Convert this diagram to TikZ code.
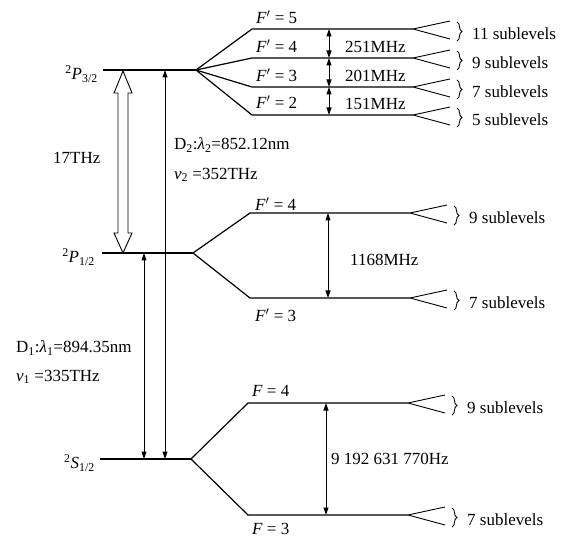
\documentclass[tikz,border=0pt]{standalone}
\usepackage{fontspec}
\setmainfont{Liberation Serif}
\usetikzlibrary{arrows.meta,decorations.pathreplacing}
\begin{document}
\begin{tikzpicture}[x=1pt,y=-1pt,
  font=\fontsize{17}{19}\selectfont,
  lvl/.style={line width=1.2pt},
  gap/.style={line width=1pt,{Triangle[length=7.5pt,width=5pt]}-{Triangle[length=7.5pt,width=5pt]}},
  lab/.style={inner sep=0pt},
  pics/fork/.style={code={
    \draw[line width=0.9pt] (0,0) -- (37,-8) (0,0) -- (37,10);
    \draw[line width=0.9pt,decorate,decoration={brace,amplitude=5pt}] (44,-7) -- (44,12);
    \node[lab,anchor=west] (-t) at (59,5) {#1};
  }}]
\useasboundingbox (0,0) rectangle (562,537);

% fine-structure levels
\coordinate (p3L) at (103,70);  \coordinate (p3R) at (196,70);
\coordinate (p1L) at (102,253); \coordinate (p1R) at (193,253);
\coordinate (s1L) at (100,459); \coordinate (s1R) at (191,459);
\draw[lvl] (p3L) -- (p3R);
\draw[lvl] (p1L) -- (p1R);
\draw[lvl] (s1L) -- (s1R);
\node[lab,anchor=east] (p3lab) at (98,74) {\textsuperscript{2}\textit{P}\textsubscript{3/2}};
\node[lab,anchor=east] (p1lab) at (95,257) {\textsuperscript{2}\textit{P}\textsubscript{1/2}};
\node[lab,anchor=east] (s1lab) at (95,463) {\textsuperscript{2}\textit{S}\textsubscript{1/2}};

% P3/2 hyperfine
\coordinate (a5s) at (252,29);  \coordinate (a5e) at (413,29);
\coordinate (a4s) at (252,58);  \coordinate (a4e) at (413,58);
\coordinate (a3s) at (252,87);  \coordinate (a3e) at (413,87);
\coordinate (a2s) at (252,115); \coordinate (a2e) at (413,115);
\foreach \n in {5,4,3,2} {\draw[lvl] (p3R) -- (a\n s) -- (a\n e);}
\pic (f5) at (a5e) {fork={11 sublevels}};
\pic (f4) at (a4e) {fork={9 sublevels}};
\pic (f3) at (a3e) {fork={7 sublevels}};
\pic (f2) at (a2e) {fork={5 sublevels}};
\node[lab,anchor=west] (la5) at (256,17) {\textit{F}$'$ = 5};
\node[lab,anchor=west] (la4) at (256,46) {\textit{F}$'$ = 4};
\node[lab,anchor=west] (la3) at (256,75) {\textit{F}$'$ = 3};
\node[lab,anchor=west] (la2) at (256,102) {\textit{F}$'$ = 2};
\coordinate (g5) at (329,29); \coordinate (g4) at (329,58);
\coordinate (g3) at (329,87); \coordinate (g2) at (329,115);
\draw[gap] (g5) -- (g4);
\draw[gap] (g4) -- (g3);
\draw[gap] (g3) -- (g2);
\node[lab,anchor=west] (h1) at (345,47) {251MHz};
\node[lab,anchor=west] (h2) at (345,76) {201MHz};
\node[lab,anchor=west] (h3) at (345,104) {151MHz};

% P1/2 hyperfine
\coordinate (b4s) at (250,213); \coordinate (b4e) at (410,213);
\coordinate (b3s) at (250,298); \coordinate (b3e) at (410,298);
\draw[lvl] (p1R) -- (b4s) -- (b4e);
\draw[lvl] (p1R) -- (b3s) -- (b3e);
\pic (fb4) at (b4e) {fork={9 sublevels}};
\pic (fb3) at (b3e) {fork={7 sublevels}};
\node[lab,anchor=west] (lb4) at (255,204) {\textit{F}$'$ = 4};
\node[lab,anchor=west] (lb3) at (255,315) {\textit{F}$'$ = 3};
\coordinate (gb4) at (328,213); \coordinate (gb3) at (328,298);
\draw[gap] (gb4) -- (gb3);
\node[lab,anchor=west] (hb) at (350,260) {1168MHz};

% S1/2 hyperfine
\coordinate (c4s) at (248,403); \coordinate (c4e) at (408,403);
\coordinate (c3s) at (248,515); \coordinate (c3e) at (408,515);
\draw[lvl] (s1R) -- (c4s) -- (c4e);
\draw[lvl] (s1R) -- (c3s) -- (c3e);
\pic (fc4) at (c4e) {fork={9 sublevels}};
\pic (fc3) at (c3e) {fork={7 sublevels}};
\node[lab,anchor=west] (lc4) at (252,391) {\textit{F} = 4};
\node[lab,anchor=west] (lc3) at (252,529) {\textit{F} = 3};
\coordinate (gc4) at (326,403); \coordinate (gc3) at (326,515);
\draw[gap] (gc4) -- (gc3);
\node[lab,anchor=west] (hc) at (331,459) {9 192 631 770Hz};

% fine-structure splitting (hollow double arrow)
\draw[line width=0.9pt,fill=white] (123,71) -- (132,93) -- (128,93) -- (128,233) -- (132,233)
  -- (123,253) -- (114,233) -- (118,233) -- (118,93) -- (114,93) -- cycle;
\node[lab,anchor=west] (fs) at (53,158) {17THz};

% D lines
\coordinate (d2t) at (165,70);  \coordinate (d2b) at (165,459);
\coordinate (d1t) at (144,253); \coordinate (d1b) at (144,459);
\draw[gap] (d2b) -- (d2t);
\draw[gap] (d1b) -- (d1t);
\node[lab,anchor=west] (d2a) at (174,145) {D\textsubscript{2}:\textit{λ}\textsubscript{2}=852.12nm};
\node[lab,anchor=west] (d2b2) at (174,175) {\textit{ν}\textsubscript{2} =352THz};
\node[lab,anchor=west] (d1a) at (16,348) {D\textsubscript{1}:\textit{λ}\textsubscript{1}=894.35nm};
\node[lab,anchor=west] (d1b2) at (16,377) {\textit{ν}\textsubscript{1} =335THz};
\end{tikzpicture}
\end{document}
